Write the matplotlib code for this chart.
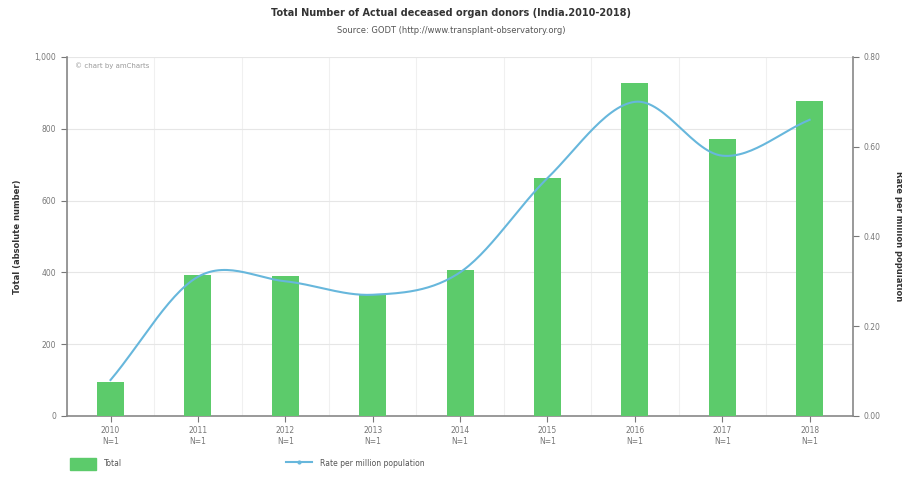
import matplotlib
matplotlib.use("Agg")
import matplotlib.pyplot as plt
import numpy as np
from matplotlib.lines import Line2D
from matplotlib.patches import Patch

years = ["2010", "2011", "2012", "2013", "2014", "2015", "2016", "2017", "2018"]
n_labels = ["N=1"] * 9
totals = [95, 392, 390, 340, 407, 663, 928, 772, 877]
rates = [0.08, 0.31, 0.30, 0.27, 0.32, 0.53, 0.70, 0.58, 0.66]

GREEN = "#5ccb6b"
BLUE = "#67b7dc"
GREY = "#888888"


def catmull_rom(x, y, steps=30):
    # smoothed line like amCharts, rendering only
    x = np.asarray(x, float)
    y = np.asarray(y, float)
    px = np.concatenate([[2 * x[0] - x[1]], x, [2 * x[-1] - x[-2]]])
    py = np.concatenate([[2 * y[0] - y[1]], y, [2 * y[-1] - y[-2]]])
    xs, ys = [], []
    t = np.linspace(0, 1, steps, endpoint=False)
    for i in range(1, len(px) - 2):
        p0, p1, p2, p3 = py[i - 1], py[i], py[i + 1], py[i + 2]
        q0, q1, q2, q3 = px[i - 1], px[i], px[i + 1], px[i + 2]
        ys.append(0.5 * (2 * p1 + (-p0 + p2) * t + (2 * p0 - 5 * p1 + 4 * p2 - p3) * t ** 2
                         + (-p0 + 3 * p1 - 3 * p2 + p3) * t ** 3))
        xs.append(0.5 * (2 * q1 + (-q0 + q2) * t + (2 * q0 - 5 * q1 + 4 * q2 - q3) * t ** 2
                         + (-q0 + 3 * q1 - 3 * q2 + q3) * t ** 3))
    xs.append([x[-1]])
    ys.append([y[-1]])
    return np.concatenate(xs), np.concatenate(ys)


fig = plt.figure(figsize=(9.03, 4.87), dpi=100)
ax = fig.add_axes([0.074, 0.146, 0.871, 0.737])
ax2 = ax.twinx()

x = np.arange(len(years))
ax.bar(x, totals, width=0.31, color=GREEN, zorder=3)
ax.set_xlim(-0.5, len(years) - 0.5)
ax.set_ylim(0, 1000)
ax.set_yticks([0, 200, 400, 600, 800, 1000], ["0", "200", "400", "600", "800", "1,000"])
ax.set_xticks(x, [f"{y}\n{n}" for y, n in zip(years, n_labels)])
ax.grid(axis="y", color="#e6e6e6", lw=0.8, zorder=0)
for b in np.arange(-0.5, len(years), 1.0):
    ax.axvline(b, color="#f0f0f0", lw=0.8, zorder=0)

sx, sy = catmull_rom(x, rates)
ax2.plot(sx, sy, color=BLUE, lw=1.5, zorder=4)
ax2.set_ylim(0, 0.8)
ax2.set_yticks([0, 0.2, 0.4, 0.6, 0.8], ["0.00", "0.20", "0.40", "0.60", "0.80"])

for a in (ax, ax2):
    for s in a.spines.values():
        s.set_visible(False)
    a.tick_params(labelsize=5.5, colors="#777777", length=4, width=0.8)
ax.spines["left"].set_visible(True)
ax.spines["bottom"].set_visible(True)
ax2.spines["right"].set_visible(True)
for s in (ax.spines["left"], ax.spines["bottom"], ax2.spines["right"]):
    s.set_color(GREY)
    s.set_linewidth(1.2)

ax.set_ylabel("Total (absolute number)", fontsize=6, fontweight="bold", color="#333333", labelpad=9)
ax2.set_ylabel("Rate per million population", fontsize=6, fontweight="bold", color="#333333",
               rotation=270, labelpad=16)

ax.text(0.01, 0.985, "© chart by amCharts", transform=ax.transAxes, fontsize=5, color="#999999",
        va="top", ha="left")

fig.text(0.5, 0.967, "Total Number of Actual deceased organ donors (India.2010-2018)",
         ha="center", fontsize=7, fontweight="bold", color="#333333")
fig.text(0.5, 0.932, "Source: GODT (http://www.transplant-observatory.org)",
         ha="center", fontsize=6, color="#555555")

handles = [Patch(color=GREEN, label="Total"),
           Line2D([0], [0], color=BLUE, lw=1.5, marker="o", ms=2, label="Rate per million population")]
fig.legend(handles=handles, loc="lower left", bbox_to_anchor=(0.07, 0.02), ncol=2, frameon=False,
           fontsize=5.5, labelcolor="#555555", columnspacing=21.5, handlelength=3.4,
           handleheight=2.2, handletextpad=1.0)

fig.savefig("out.png", dpi=100)
